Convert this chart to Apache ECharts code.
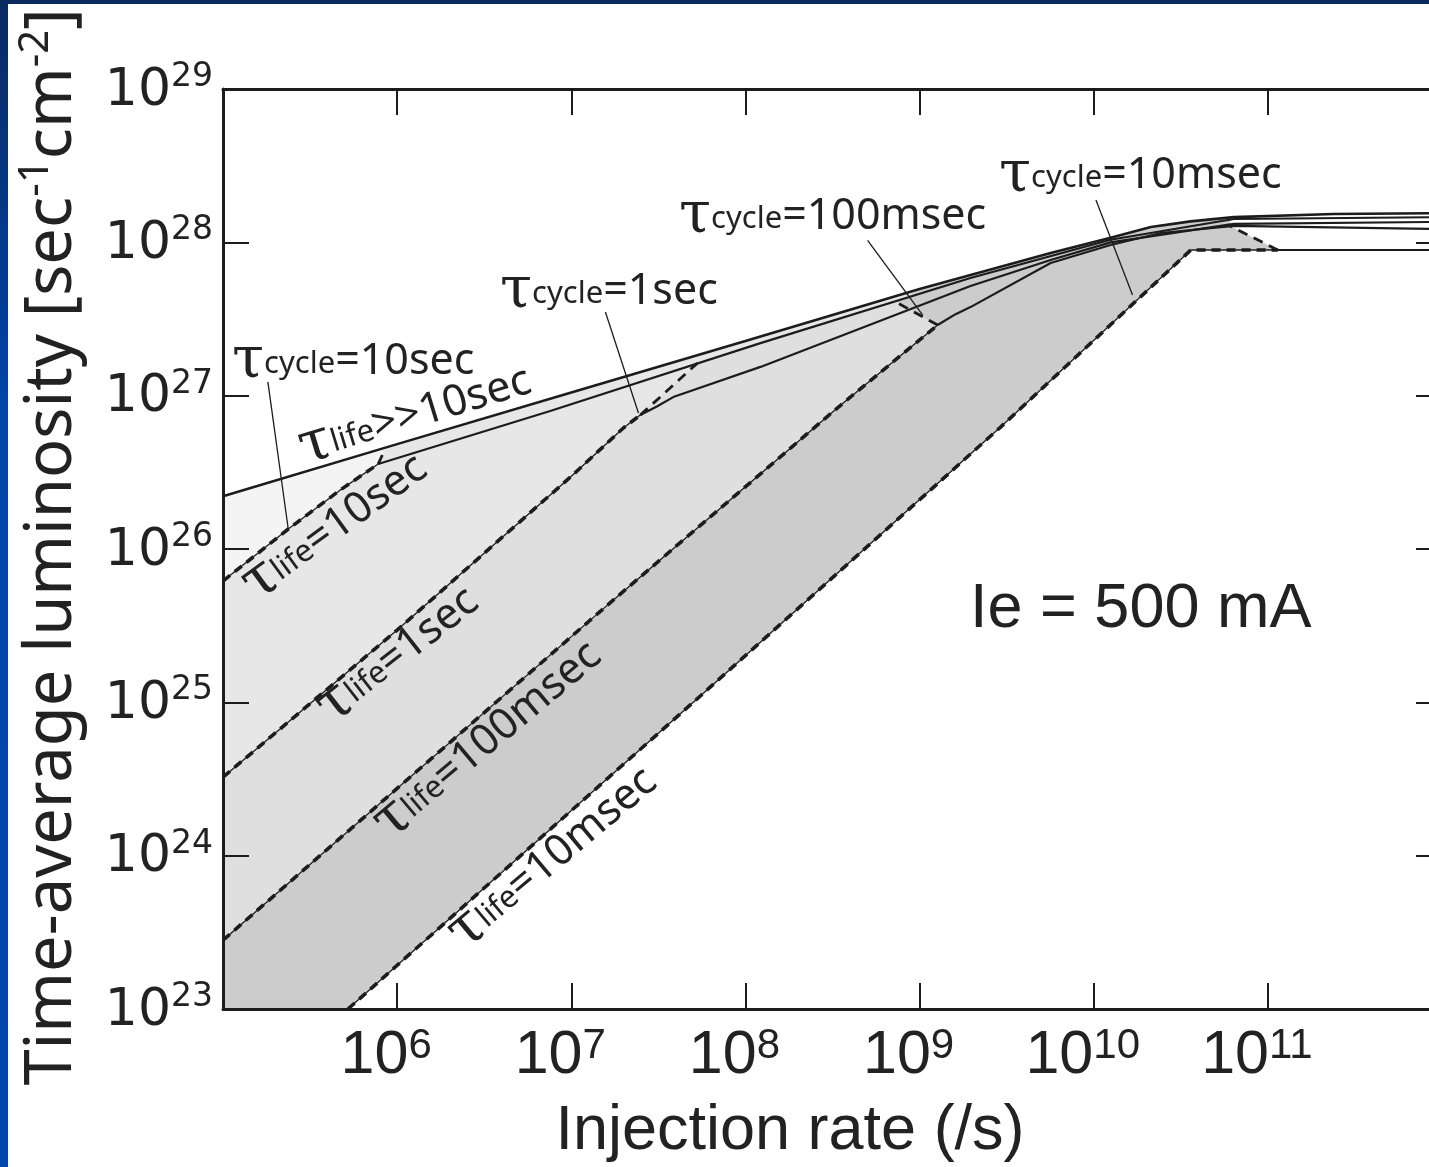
<!DOCTYPE html>
<html>
<head>
<meta charset="utf-8">
<title>Time-average luminosity vs injection rate</title>
<script src="https://cdn.jsdelivr.net/npm/echarts@6/dist/echarts.min.js"></script>
<style>
  html, body { margin: 0; padding: 0; background: #fff; }
  #chart { width: 1429px; height: 1167px; }
</style>
</head>
<body>
<div id="chart"></div>
<script>
// axis ranges: injection rate (/s), luminosity (sec-1 cm-2)
const xRange = [1e5, 1e12]
const yRange = [1e23, 1e29]

// tau_life >> 10 sec (upper envelope)
const lifeInf = [[1e5, 2.21e26], [1e6, 4.83e26], [1e7, 1.05e27], [1e8, 2.27e27], [1e9, 4.96e27],
  [5.66e9, 8.51e27], [1.25e10, 1.07e28], [2.13e10, 1.26e28], [3.6e10, 1.37e28], [6.38e10, 1.46e28],
  [2.39e11, 1.53e28], [1e12, 1.55e28]]

// tau_life = 10 sec
const life10Dash = [[1e5, 6.18e25], [2.37e5, 1.35e26], [4.70e5, 2.42e26], [7.78e5, 3.58e26]]
const life10Solid = [[7.78e5, 3.58e26], [7.57e6, 7.94e26], [1.22e8, 2.20e27], [1.96e9, 5.85e27],
  [1.25e10, 1.04e28], [6.38e10, 1.42e28], [1e12, 1.46e28]]

// tau_life = 1 sec
const life1Dash = [[1e5, 3.25e24], [1e6, 2.96e25], [9.87e6, 2.94e26], [1.99e7, 6.15e26], [2.49e7, 7.47e26]]
const life1Solid = [[2.49e7, 7.47e26], [3.1e7, 8.5e26], [3.85e7, 9.79e26], [1.22e8, 1.54e27], [1.96e9, 5.19e27],
  [5.66e9, 7.67e27], [1.25e10, 1.00e28], [6.38e10, 1.32e28], [1e12, 1.36e28]]

// tau_life = 100 msec
const life100Dash = [[1e5, 2.81e23], [1.74e7, 4.64e25], [3.42e8, 8.43e26], [1.27e9, 2.89e27]]
const life100Solid = [[1.27e9, 2.89e27], [1.61e9, 3.40e27], [1.96e9, 3.78e27], [5.66e9, 7.33e27],
  [1.25e10, 9.60e27], [2.43e10, 1.15e28], [6.38e10, 1.28e28], [1e12, 1.22e28]]

// tau_life = 10 msec
const life10msDash = [[5.22e5, 1e23], [5.51e7, 1.10e25], [2.92e9, 6.24e26], [3.61e10, 8.91e27], [1.14e11, 8.91e27]]
const life10msSolid = [[1.14e11, 8.91e27], [1e12, 8.91e27]]

// tau_cycle boundaries (dashed)
const cyc10 = [[7.78e5, 3.58e26], [8.53e5, 4.49e26]]
const cyc1 = [[2.49e7, 7.47e26], [5.30e7, 1.63e27]]
const cyc100 = [[1.27e9, 2.89e27], [7.48e8, 4.02e27]]
const cyc10ms = [[1.14e11, 8.91e27], [5.89e10, 1.30e28]]

// leader lines from the tau_cycle labels
const leaders = [
  [[1.81e5, 1.23e27], [2.37e5, 1.35e26]],
  [[1.57e7, 3.51e27], [2.43e7, 7.70e26]],
  [[5.03e8, 1.03e28], [1.04e9, 3.36e27]],
  [[1.03e10, 1.89e28], [1.67e10, 4.53e27]]
]

const ink = '#1c1c1c'
const textInk = '#222'

const chart = echarts.init(document.getElementById('chart'))

// regions are painted one over the other, each one is "everything under its boundary"
const after = (arr, x) => arr.filter(p => p[0] > x)
const floor = [[xRange[1], yRange[0]], [xRange[0], yRange[0]]]
const fillA = [...lifeInf, ...floor]
const fillB = [...life10Dash, cyc10[1], ...after(lifeInf, cyc10[1][0]), ...floor]
const fillC = [...life1Dash, cyc1[1], ...after(life10Solid, cyc1[1][0]), ...floor]
const fillD = [...life100Dash, cyc100[1], ...after(lifeInf, cyc100[1][0]), ...floor]
const fillW = [...life10msDash, cyc10ms[1], ...after(lifeInf, cyc10ms[1][0]), floor[0]]

function fillSeries(points, color, z) {
  return {
    type: 'custom',
    silent: true,
    z,
    data: [points[0]],
    renderItem: (params, api) => ({
      type: 'polygon',
      shape: { points: points.map(p => api.coord(p)) },
      style: { fill: color }
    })
  }
}

function lineSeries(data, style, z) {
  return {
    type: 'line',
    data,
    symbol: 'none',
    silent: true,
    z: z || 6,
    lineStyle: Object.assign({ color: ink, width: 2 }, style)
  }
}

const solid = { width: 2.2 }
const thin = { width: 1.3 }
const dash = { width: 3.6, type: [9, 6] }
const cycDash = { width: 2.8, type: [10, 7] }

const series = [
  fillSeries(fillA, '#f4f4f4', 1),
  fillSeries(fillB, '#e7e7e7', 2),
  fillSeries(fillC, '#dfdfdf', 3),
  fillSeries(fillD, '#cccccc', 4),
  fillSeries(fillW, '#ffffff', 5),
  lineSeries(lifeInf, { width: 2.6 }),
  lineSeries(life10Solid, solid),
  lineSeries(life1Solid, solid),
  lineSeries(life100Solid, solid),
  lineSeries(life10msSolid, solid),
  lineSeries(life10Dash, thin),
  lineSeries(life1Dash, thin),
  lineSeries(life100Dash, thin),
  lineSeries(life10msDash, thin),
  lineSeries(life10Dash, dash, 7),
  lineSeries(life1Dash, dash, 7),
  lineSeries(life100Dash, dash, 7),
  lineSeries(life10msDash, dash, 7),
  lineSeries(cyc10, cycDash, 7),
  lineSeries(cyc1, cycDash, 7),
  lineSeries(cyc100, cycDash, 7),
  lineSeries(cyc10ms, cycDash, 7),
  ...leaders.map(l => lineSeries(l, { width: 1.3 }, 7))
]

const exponent = v => Math.round(Math.log10(v))
const tickStyle = { inside: true, length: 26, lineStyle: { color: ink, width: 2 } }
const frameLine = { onZero: false, lineStyle: { color: ink, width: 3 } }

const xRich = {
  b: { fontFamily: 'Liberation Sans', fontSize: 61, lineHeight: 62, color: textInk, verticalAlign: 'bottom' },
  s: { fontFamily: 'Liberation Sans', fontSize: 42, lineHeight: 40, color: textInk, verticalAlign: 'top' }
}
const yRich = {
  b: { fontFamily: 'DejaVu Sans', fontSize: 52, lineHeight: 56, color: textInk, verticalAlign: 'bottom' },
  s: { fontFamily: 'DejaVu Sans', fontSize: 33, lineHeight: 34, color: textInk, verticalAlign: 'top' }
}

const tauRich = {
  t: { fontFamily: 'DejaVu Serif', fontSize: 58, lineHeight: 52, fill: textInk, verticalAlign: 'middle' },
  s: { fontFamily: 'Noto Sans', fontSize: 31, lineHeight: 52, fill: textInk, verticalAlign: 'middle', padding: [5, 0, 0, 0] },
  m: { fontFamily: 'Noto Sans', fontSize: 43, lineHeight: 52, fill: textInk, verticalAlign: 'middle' }
}

const notes = [
  { text: '{t|τ}{s|cycle}{m|=10sec}', x: 232, y: 362, rot: 0 },
  { text: '{t|τ}{s|cycle}{m|=1sec}', x: 500, y: 292, rot: 0 },
  { text: '{t|τ}{s|cycle}{m|=100msec}', x: 679, y: 217, rot: 0 },
  { text: '{t|τ}{s|cycle}{m|=10msec}', x: 999, y: 176, rot: 0 },
  { text: '{t|τ}{s|life}{m|>>10sec}', x: 415, y: 415, rot: 17 },
  { text: '{t|τ}{s|life}{m|=10sec}', x: 335, y: 527, rot: 36 },
  { text: '{t|τ}{s|life}{m|=1sec}', x: 398, y: 655, rot: 38 },
  { text: '{t|τ}{s|life}{m|=100msec}', x: 488, y: 740, rot: 40 },
  { text: '{t|τ}{s|life}{m|=10msec}', x: 553, y: 858, rot: 40 }
]

const graphic = [
  {
    type: 'rect', z: 30, silent: true,
    shape: { x: 0, y: 0, width: 8, height: 1167 },
    style: {
      fill: new echarts.graphic.LinearGradient(0, 0, 0, 1, [
        { offset: 0, color: '#0a2a62' },
        { offset: 0.35, color: '#0044a8' },
        { offset: 1, color: '#0047ad' }
      ])
    }
  },
  { type: 'rect', z: 30, silent: true, shape: { x: 0, y: 0, width: 1429, height: 4 }, style: { fill: '#0b2a5e' } },
  ...notes.map(n => ({
    type: 'text', z: 20, silent: true,
    x: n.x, y: n.y, rotation: n.rot * Math.PI / 180,
    style: { text: n.text, rich: tauRich, align: n.rot ? 'center' : 'left', verticalAlign: 'middle', fill: textInk }
  })),
  {
    type: 'text', z: 20, silent: true, x: 970, y: 610,
    style: { text: 'Ie = 500 mA', fontFamily: 'Liberation Sans', fontSize: 63, fill: textInk, align: 'left', verticalAlign: 'middle' }
  },
  {
    type: 'text', z: 20, silent: true, x: 790, y: 1132,
    style: { text: 'Injection rate (/s)', fontFamily: 'Liberation Sans', fontSize: 63, fill: textInk, align: 'center', verticalAlign: 'middle' }
  },
  {
    type: 'text', z: 20, silent: true, x: 50, y: 547, rotation: Math.PI / 2,
    style: {
      text: '{m|Time-average luminosity [sec}{u|-1}{m|cm}{u|-2}{m|]}',
      rich: {
        m: { fontFamily: 'Noto Sans', fontSize: 65, lineHeight: 70, fill: textInk, verticalAlign: 'bottom' },
        u: { fontFamily: 'Noto Sans', fontSize: 42, lineHeight: 46, fill: textInk, verticalAlign: 'top' }
      },
      align: 'center', verticalAlign: 'middle'
    }
  }
]

chart.setOption({
  animation: false,
  backgroundColor: '#ffffff',
  grid: { left: 223, top: 89, width: 1219, height: 920, containLabel: false, outerBoundsMode: 'none' },
  xAxis: [
    {
      type: 'log', min: xRange[0], max: xRange[1], splitNumber: 7, z: 10,
      axisLine: frameLine, axisTick: tickStyle, splitLine: { show: false },
      axisLabel: {
        margin: 16, padding: [0, 22, 0, 0], rich: xRich,
        formatter: v => {
          const e = exponent(v)
          return e <= 5 || e >= 12 ? '' : '{b|10}{s|' + e + '}'
        }
      }
    },
    {
      type: 'log', position: 'top', min: xRange[0], max: xRange[1], splitNumber: 7, z: 10,
      axisLine: frameLine, axisTick: tickStyle, splitLine: { show: false }, axisLabel: { show: false }
    }
  ],
  yAxis: [
    {
      type: 'log', min: yRange[0], max: yRange[1], splitNumber: 6, z: 10,
      axisLine: frameLine, axisTick: tickStyle, splitLine: { show: false },
      axisLabel: {
        margin: 10, rich: yRich, showMinLabel: true, showMaxLabel: true,
        formatter: v => '{b|10}{s|' + exponent(v) + '}'
      }
    },
    {
      type: 'log', position: 'right', min: yRange[0], max: yRange[1], splitNumber: 6, z: 10,
      axisLine: frameLine, axisTick: tickStyle, splitLine: { show: false }, axisLabel: { show: false }
    }
  ],
  graphic,
  series
})

window.addEventListener('resize', () => chart.resize())
</script>
</body>
</html>
